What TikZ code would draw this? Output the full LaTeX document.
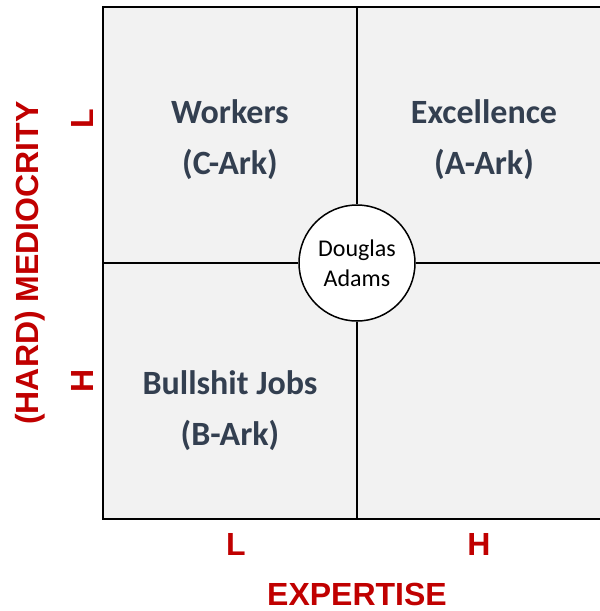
\documentclass[tikz,border=0pt]{standalone}
\usepackage{fontspec}
\setmainfont{Carlito}
\newfontfamily\axisfont{Liberation Sans}
\usetikzlibrary{positioning}
\definecolor{quadgray}{HTML}{F2F2F2}
\definecolor{quadtext}{HTML}{333F50}
\definecolor{axisred}{HTML}{C00000}

\begin{document}
\begin{tikzpicture}[x=1pt,y=-1pt,
    quadlabel/.style={text=quadtext,align=center,font=\bfseries\fontsize{34}{51}\selectfont},
    axislabel/.style={text=axisred,font=\axisfont\bfseries\fontsize{32}{38}\selectfont},
    person/.style={circle,draw,line width=1.5pt,fill=white,minimum size=116pt,inner sep=0pt,
      align=center,font=\fontsize{24}{30}\selectfont},
    divider/.style={line width=1.5pt}]
  \useasboundingbox (0,0) rectangle (600,611);
  % the grid, running off the right edge
  \begin{scope}
    \clip (0,0) rectangle (600,611);
    \fill [quadgray] (103,7) rectangle (640,519);
    \draw [line width=2pt] (640,7) -- (103,7) -- (103,519) -- (640,519);
  \end{scope}
  \coordinate (top) at (357,7);
  \coordinate (bottom) at (357,519);
  \coordinate (left) at (103,263);
  \coordinate (right) at (600,263);
  \node [person] (adams) at (357,263) {Douglas\\Adams};
  \draw [divider] (top) -- (adams.north);
  \draw [divider] (adams.south) -- (bottom);
  \draw [divider] (left) -- (adams.west);
  \draw [divider] (adams.east) -- (right);
  % quadrants
  \node [quadlabel] (workers) at (230,140) {Workers\\(C-Ark)};
  \node [quadlabel] (excellence) at (484,140) {Excellence\\(A-Ark)};
  \node [quadlabel] (bullshit) at (230,411) {Bullshit Jobs\\(B-Ark)};
  % axes
  \node [axislabel] (xlow) at (236,544) {L};
  \node [axislabel] (xhigh) at (479,544) {H};
  \node [axislabel] (xaxis) at (357,594) {EXPERTISE};
  \node [axislabel,rotate=90] (ylow) at (82,119) {L};
  \node [axislabel,rotate=90] (yhigh) at (82,381) {H};
  \node [axislabel,rotate=90] (yaxis) at (30,263) {(HARD) MEDIOCRITY};
\end{tikzpicture}
\end{document}
